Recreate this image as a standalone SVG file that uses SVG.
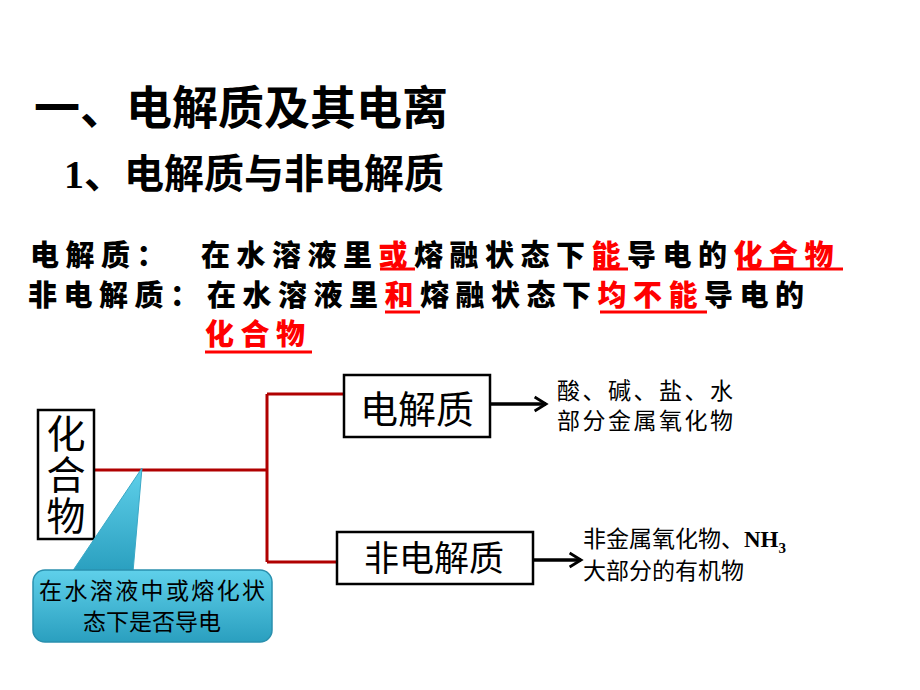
<svg xmlns="http://www.w3.org/2000/svg" width="920" height="690" viewBox="0 0 920 690">
<defs>
<style>
.ti{font-family:"Liberation Serif","Noto Sans CJK SC",serif;font-weight:bold;fill:#000}
.df{font-family:"Noto Sans CJK SC",sans-serif;font-weight:900;font-size:29px;letter-spacing:6.5px;fill:#000}
.red{fill:#ff0000}
.ul{stroke:#ff0000;stroke-width:3}
.bx{fill:#fff;stroke:#000;stroke-width:2.5}
.bt{font-family:"Noto Sans CJK SC",sans-serif;fill:#000}
.rt{font-family:"Liberation Serif","Noto Sans CJK SC",serif;font-size:23px;fill:#000}
.conn{fill:none;stroke:#b00000;stroke-width:3}
.arr{fill:none;stroke:#000;stroke-width:3.5}
</style>
<marker id="ah" viewBox="0 0 10 10" refX="8" refY="5" markerWidth="5" markerHeight="5" orient="auto" markerUnits="strokeWidth">
<path d="M1.5,1 L8,5 L1.5,9" fill="none" stroke="#000" stroke-width="1.6"/>
</marker>
<linearGradient id="bg" x1="0" y1="0" x2="0" y2="1">
<stop offset="0" stop-color="#5fd0ea"/>
<stop offset="1" stop-color="#2a9fbf"/>
</linearGradient>
</defs>
<rect width="920" height="690" fill="#fff"/>
<g id="title">
<text class="ti" x="34" y="124" font-size="46">一、电解质及其电离</text>
<text class="ti" x="64" y="188" font-size="40">1、电解质与非电解质</text>
</g>
<g id="definitions">
<text class="df" x="30" y="266" letter-spacing="4">电解质：</text>
<text class="df" x="201" y="266">在水溶液里<tspan class="red">或</tspan>熔融状态下<tspan class="red">能</tspan>导电的<tspan class="red">化合物</tspan></text>
<line class="ul" x1="380" y1="269" x2="415" y2="269"/>
<line class="ul" x1="593" y1="269" x2="628" y2="269"/>
<line class="ul" x1="737" y1="269" x2="843" y2="269"/>
<text class="df" x="28" y="306" letter-spacing="2">非电解质：</text>
<text class="df" x="207" y="306">在水溶液里<tspan class="red">和</tspan>熔融状态下<tspan class="red">均不能</tspan>导电的</text>
<line class="ul" x1="385" y1="312" x2="420" y2="312"/>
<line class="ul" x1="600" y1="312" x2="707" y2="312"/>
<text class="df red" x="205" y="345">化合物</text>
<line class="ul" x1="205" y1="352" x2="312" y2="352"/>
</g>
<g id="connectors">
<path class="conn" d="M94,470 H267 M267,394 V562 M267,394 H345 M267,562 H337"/>
<line class="arr" x1="490" y1="404" x2="546" y2="404" marker-end="url(#ah)"/>
<line class="arr" x1="533" y1="560" x2="581" y2="560" marker-end="url(#ah)"/>
</g>
<g id="compound">
<rect class="bx" x="38" y="410" width="56" height="129"/>
<text class="bt" x="66" y="414" font-size="39" letter-spacing="2" style="writing-mode:vertical-rl">化合物</text>
</g>
<g id="electrolyte">
<rect class="bx" x="344" y="375" width="146" height="62"/>
<text class="bt" x="417" y="423" font-size="38" text-anchor="middle">电解质</text>
</g>
<g id="nonelectrolyte">
<rect class="bx" x="337" y="532" width="196" height="52"/>
<text class="bt" x="434" y="571" font-size="35" text-anchor="middle">非电解质</text>
</g>
<g id="electrolyte-examples">
<text class="rt" x="557" y="399" textLength="176">酸、碱、盐、水</text>
<text class="rt" x="557" y="429" textLength="176">部分金属氧化物</text>
</g>
<g id="nonelectrolyte-examples">
<text class="rt" x="583" y="547">非金属氧化物、<tspan font-weight="bold">NH</tspan><tspan font-weight="bold" font-size="15" dy="6">3</tspan></text>
<text class="rt" x="583" y="579">大部分的有机物</text>
</g>
<g id="callout">
<path d="M142,468 L133,572 L72,572 Z" fill="url(#bg)" stroke="#3aa8c6" stroke-width="1"/>
<rect x="33" y="570" width="239" height="72" rx="12" fill="url(#bg)" stroke="#2a90ae" stroke-width="1.5"/>
<text class="bt" font-size="23" text-anchor="middle"><tspan x="152" y="599" textLength="226">在水溶液中或熔化状</tspan><tspan x="152" y="630">态下是否导电</tspan></text>
</g>
</svg>
